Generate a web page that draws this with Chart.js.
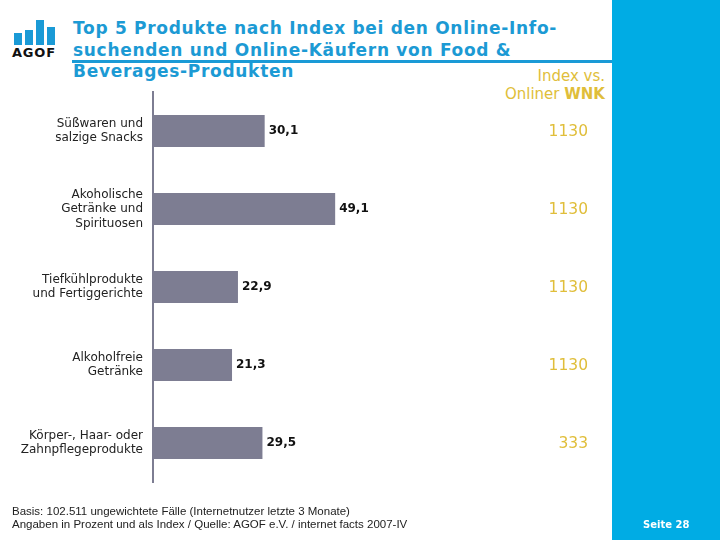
<!DOCTYPE html>
<html>
<head>
<meta charset="utf-8">
<script src="https://cdn.jsdelivr.net/npm/chart.js@4.4.1/dist/chart.umd.min.js"></script>
<style>
  body { margin: 0; width: 720px; height: 540px; position: relative; overflow: hidden; background: #fff; font-family: "DejaVu Sans", Verdana, sans-serif; }
  #panel { position: absolute; left: 612px; top: 0; width: 108px; height: 540px; background: #00ACE4; }
  #rule { position: absolute; left: 72px; top: 60px; width: 540px; height: 3px; background: #1A9AD6; }
  #title { position: absolute; left: 73px; top: 18px; font-size: 17px; letter-spacing: 0.7px; font-weight: bold; color: #1C9AD4; line-height: 21.5px; }
  #idxhead { position: absolute; right: 115px; top: 67px; text-align: right; color: #E0BE3A; font-size: 15px; line-height: 18px; }
  #foot { position: absolute; left: 12px; top: 505px; font-family: "Liberation Sans", Arial, sans-serif; font-size: 11.5px; color: #222; line-height: 13px; }
  #seite { position: absolute; left: 643px; top: 519px; color: #fff; font-weight: bold; font-size: 10px; }
  .logo b { position: absolute; width: 8px; background: #1A9AD6; bottom: 495px; }
  #agof { position: absolute; left: 12px; top: 45px; font-weight: bold; font-size: 13px; letter-spacing: 0.8px; color: #111; }
  canvas { position: absolute; left: 0; top: 0; }
</style>
</head>
<body>
<div id="panel"></div>
<div class="logo">
  <b style="left:14px;height:12px"></b>
  <b style="left:25px;height:15px"></b>
  <b style="left:36px;height:25px"></b>
  <b style="left:47px;height:18px"></b>
</div>
<div id="agof">AGOF</div>
<div id="title">Top 5 Produkte nach Index bei den Online-Info-<br>suchenden und Online-Käufern von Food &amp;<br>Beverages-Produkten</div>
<div id="rule"></div>
<div id="idxhead">Index vs.<br>Onliner <b>WNK</b></div>
<div id="chartbox"><canvas id="c" width="720" height="540"></canvas></div>
<div id="foot">Basis: 102.511 ungewichtete Fälle (Internetnutzer letzte 3 Monate)<br>Angaben in Prozent und als Index / Quelle: AGOF e.V. / internet facts 2007-IV</div>
<div id="seite">Seite 28</div>
<script>
const categories = [
  ['Süßwaren und', 'salzige Snacks'],
  ['Akoholische', 'Getränke und', 'Spirituosen'],
  ['Tiefkühlprodukte', 'und Fertiggerichte'],
  ['Alkoholfreie', 'Getränke'],
  ['Körper-, Haar- oder', 'Zahnpflegeprodukte']
];
const percentValues = [30.1, 49.1, 22.9, 21.3, 29.5];
const indexValues = [1130, 1130, 1130, 1130, 333];

// value labels next to bars + index column
const labelPlugin = {
  id: 'labels',
  afterDatasetsDraw(chart) {
    const c = chart.ctx;
    const meta = chart.getDatasetMeta(0);
    const yScale = chart.scales.y;
    c.save();
    c.textBaseline = 'middle';
    meta.data.forEach((bar, i) => {
      c.font = 'bold 12px "DejaVu Sans"';
      c.fillStyle = '#111';
      c.textAlign = 'left';
      c.fillText(percentValues[i].toFixed(1).replace('.', ','), bar.x + 4, bar.y);
      c.font = '15.5px "DejaVu Sans"';
      c.fillStyle = '#E0BE3A';
      c.textAlign = 'right';
      c.fillText(String(indexValues[i]), 588, yScale.getPixelForValue(i) + 1);
    });
    c.restore();
  }
};

new Chart(document.getElementById('c'), {
  type: 'bar',
  data: {
    labels: categories,
    datasets: [{
      data: percentValues,
      backgroundColor: '#7D7D92',
      barPercentage: 0.41,
      categoryPercentage: 1
    }]
  },
  options: {
    indexAxis: 'y',
    responsive: false,
    animation: false,
    layout: { padding: { top: 92, bottom: 58, left: 0, right: 720 - 153 - 55 * 3.71 } },
    plugins: { legend: { display: false }, tooltip: { enabled: false } },
    scales: {
      x: { display: false, min: 0, max: 55 },
      y: {
        afterFit(scale) { scale.width = 153; },
        grid: { display: false, drawTicks: false },
        border: { display: true, color: '#7D7D92', width: 2 },
        ticks: { padding: 10, color: '#222', font: { family: 'DejaVu Sans', size: 12, lineHeight: 1.2 } }
      }
    }
  },
  plugins: [labelPlugin]
});
</script>
</body>
</html>
